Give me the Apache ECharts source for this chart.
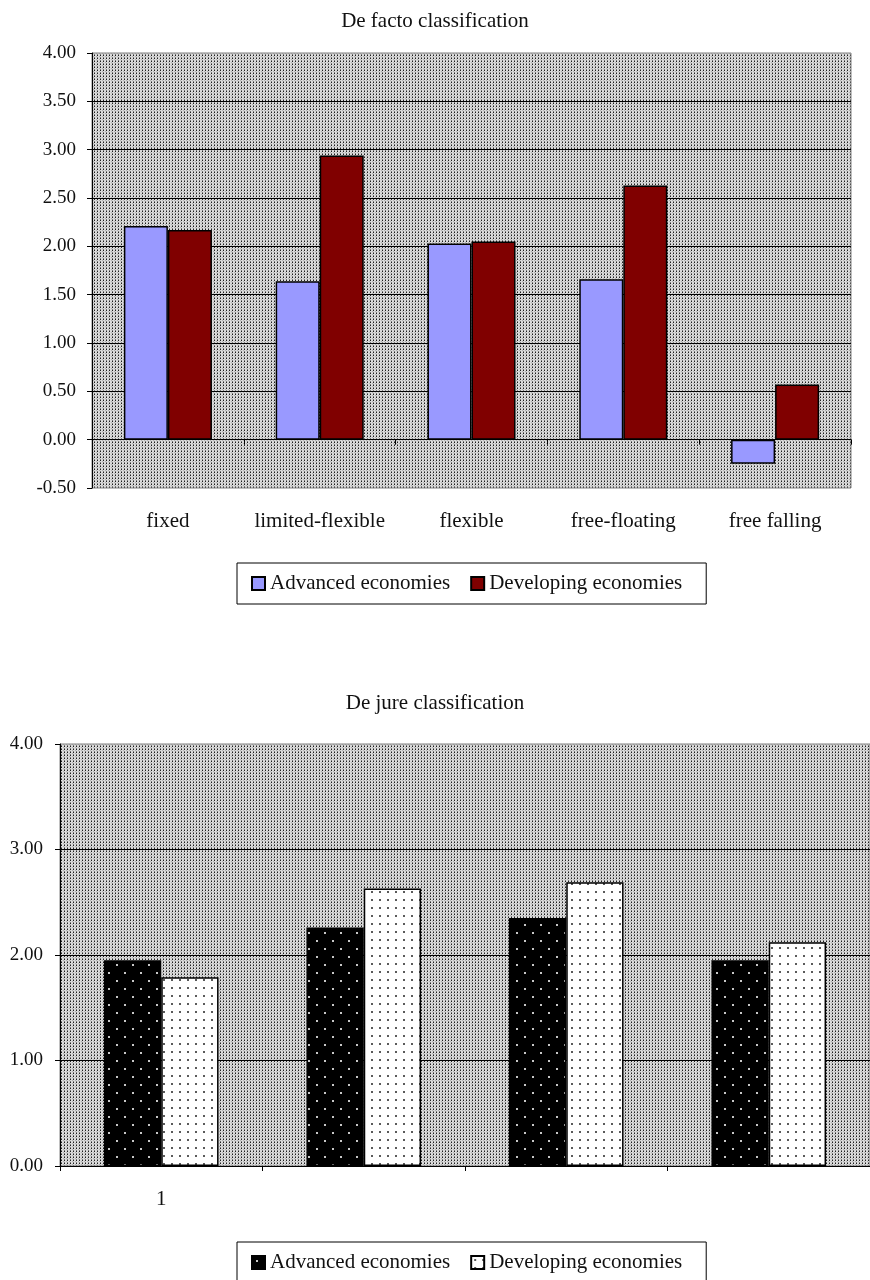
<!DOCTYPE html>
<html>
<head>
<meta charset="utf-8">
<script src="https://cdn.jsdelivr.net/npm/echarts@6/dist/echarts.min.js"></script>
<style>
  html, body { margin: 0; padding: 0; background: #ffffff; }
  #facto, #jure { width: 870px; height: 640px; }
</style>
</head>
<body>
<div id="facto"></div>
<div id="jure"></div>
<script>
// De facto regimes
const factoCategories = ['fixed', 'limited-flexible', 'flexible', 'free-floating', 'free falling'];
const factoAdvanced = [2.21, 1.64, 2.03, 1.66, -0.25];
const factoDeveloping = [2.17, 2.94, 2.05, 2.63, 0.57];
const factoTicks = { min: -0.5, max: 4, interval: 0.5 };

// De jure regimes
const jureCategories = ['1', '', '', ''];
const jureAdvanced = [1.95, 2.26, 2.35, 1.95];
const jureDeveloping = [1.79, 2.63, 2.69, 2.12];
const jureTicks = { min: 0, max: 4, interval: 1 };

const seriesNames = ['Advanced economies', 'Developing economies'];

const FONT = 'Liberation Serif';
const TEXT = { fontFamily: FONT, fontSize: 21, color: '#111' };

// Small tiled canvases used as fills
function tile(w, h, bg, dots) {
  const c = document.createElement('canvas');
  c.width = w; c.height = h;
  const g = c.getContext('2d');
  g.fillStyle = bg;
  g.fillRect(0, 0, w, h);
  dots.forEach(function (d) {
    g.fillStyle = d[2];
    g.fillRect(d[0], d[1], d[3], d[3]);
  });
  return { image: c, repeat: 'repeat' };
}
const plotFill = tile(3, 3, '#dadada', [[1, 0, '#7a7a7a', 1], [1, 1, '#1e1e1e', 1], [0, 2, '#b0b0b0', 1]]);
const darkDots = tile(16, 16, '#000000', [[4, 4, '#c8c8c8', 2], [12, 12, '#c8c8c8', 2]]);
const lightDots = tile(8, 8, '#ffffff', [[3, 3, '#5a5a5a', 2]]);

function legendBox(top) {
  return {
    top: top, left: 237,
    icon: 'rect', itemWidth: 13, itemHeight: 13, itemGap: 20,
    padding: [10, 24, 10, 14],
    borderColor: '#000', borderWidth: 1,
    textStyle: TEXT,
    selectedMode: false,
    data: seriesNames
  };
}

function yAxisCfg(ticks, margin) {
  return {
    type: 'value', min: ticks.min, max: ticks.max, interval: ticks.interval,
    axisLine: { show: true, lineStyle: { color: '#000', width: 1 } },
    axisTick: { show: true, length: 5, lineStyle: { color: '#000' } },
    axisLabel: Object.assign({}, TEXT, { fontSize: 19, margin: margin,
      formatter: function (v) { return v.toFixed(2); } }),
    splitLine: { show: true, showMinLine: false, showMaxLine: false,
      lineStyle: { color: '#000', width: 1 } }
  };
}

// Top chart
const facto = echarts.init(document.getElementById('facto'), null, { renderer: 'canvas' });
facto.setOption({
  animation: false,
  title: { text: 'De facto classification', left: 'center', top: 11, padding: 0,
    textStyle: Object.assign({}, TEXT, { fontWeight: 'normal' }) },
  legend: legendBox(563),
  grid: { left: 92, right: 19, top: 53, bottom: 152, show: true,
    backgroundColor: plotFill, borderColor: '#808080', borderWidth: 1 },
  xAxis: [
    { type: 'category', data: factoCategories, position: 'bottom',
      axisLine: { onZero: true, lineStyle: { color: '#000', width: 1 } },
      axisTick: { show: true, length: 5, interval: 0, lineStyle: { color: '#000' } },
      axisLabel: { show: false }, splitLine: { show: false } },
    { type: 'category', data: factoCategories, position: 'bottom',
      axisLine: { show: false, onZero: false }, axisTick: { show: false },
      axisLabel: Object.assign({}, TEXT, { margin: 23, interval: 0 }) }
  ],
  yAxis: yAxisCfg(factoTicks, 16),
  series: [
    { name: seriesNames[0], type: 'bar', data: factoAdvanced, barWidth: '29%', barGap: '0%',
      itemStyle: { color: '#9999ff', borderColor: '#000', borderWidth: 1.5 } },
    { name: seriesNames[1], type: 'bar', data: factoDeveloping, barWidth: '29%', barGap: '0%',
      itemStyle: { color: '#800000', borderColor: '#000', borderWidth: 1.5 } }
  ]
});

// Bottom chart
const jure = echarts.init(document.getElementById('jure'), null, { renderer: 'canvas' });
jure.setOption({
  animation: false,
  title: { text: 'De jure classification', left: 'center', top: 53, padding: 0,
    textStyle: Object.assign({}, TEXT, { fontWeight: 'normal' }) },
  legend: legendBox(602),
  grid: { left: 60, right: -10, top: 104, bottom: 114, show: true,
    backgroundColor: plotFill, borderColor: '#808080', borderWidth: 1 },
  xAxis: { type: 'category', data: jureCategories,
    axisLine: { lineStyle: { color: '#000', width: 1 } },
    axisTick: { show: true, length: 5, interval: 0, lineStyle: { color: '#000' } },
    axisLabel: Object.assign({}, TEXT, { margin: 23, interval: 0 }) },
  yAxis: yAxisCfg(jureTicks, 17),
  series: [
    { name: seriesNames[0], type: 'bar', data: jureAdvanced, barWidth: '28.3%', barGap: '0%',
      itemStyle: { color: darkDots, borderColor: '#000', borderWidth: 1.5 } },
    { name: seriesNames[1], type: 'bar', data: jureDeveloping, barWidth: '28.3%', barGap: '0%',
      itemStyle: { color: lightDots, borderColor: '#000', borderWidth: 1.5 } }
  ]
});
</script>
</body>
</html>
